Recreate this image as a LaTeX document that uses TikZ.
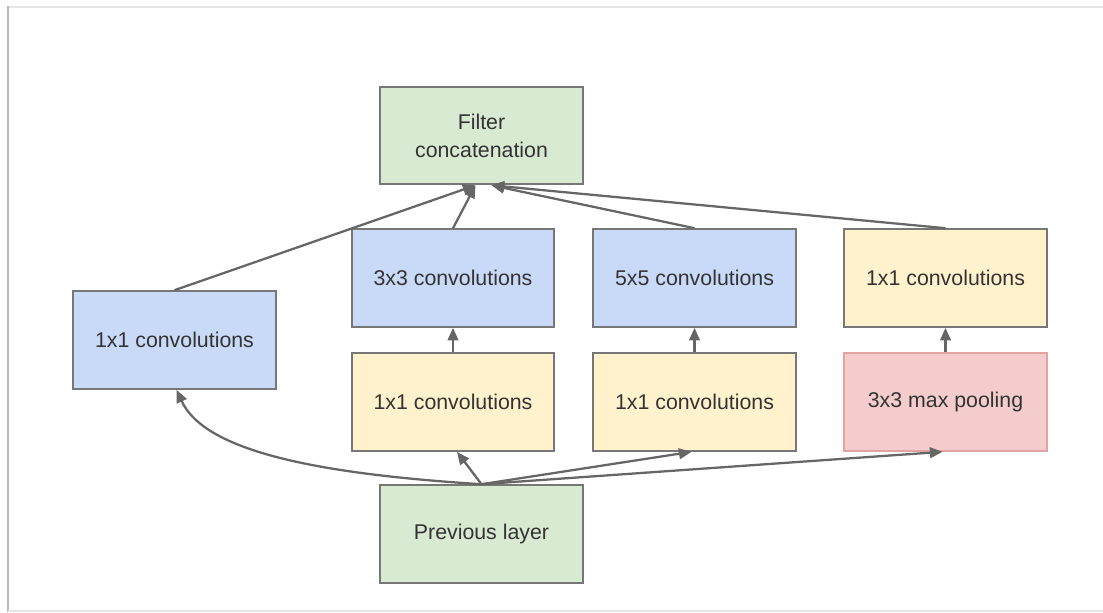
\documentclass[tikz,border=0pt]{standalone}
\usepackage{fontspec}
\setmainfont{Liberation Sans}
\usetikzlibrary{arrows.meta}
\definecolor{gfill}{HTML}{D9EAD3}
\definecolor{bfill}{HTML}{C9DAF8}
\definecolor{yfill}{HTML}{FFF2CC}
\definecolor{rfill}{HTML}{F4CCCC}
\definecolor{rline}{HTML}{E3A3A3}
\definecolor{bline}{HTML}{777777}
\definecolor{aline}{HTML}{666666}
\definecolor{txt}{HTML}{333333}
\tikzset{
  box/.style={draw=bline, line width=1.7pt, rectangle, minimum width=152pt, minimum height=73pt,
    align=center, font=\fontsize{16}{21}\selectfont, text=txt, inner sep=0pt},
  gbox/.style={box, fill=gfill},
  bbox/.style={box, fill=bfill},
  ybox/.style={box, fill=yfill},
  rbox/.style={box, fill=rfill, draw=rline},
  conn/.style={draw=aline, line width=1.7pt, -{Triangle[length=9.5pt,width=8pt]}},
}
\begin{document}
\begin{tikzpicture}[x=0.75pt, y=-0.75pt]
\useasboundingbox (0,0) rectangle (1103,612);
% frame
\draw[draw=black!10, line width=1.5pt] (8,6.5) -- (1103,6.5);
\draw[draw=black!28, line width=1.8pt] (8,6) -- (8,612);
\draw[draw=black!10, line width=1.2pt] (8,611) -- (1103,611);
% nodes
\node[gbox] (concat) at (481.5,135.5) {Filter\\concatenation};
\node[bbox] (c1) at (174.5,340) {1x1 convolutions};
\node[bbox] (c3) at (453,278) {3x3 convolutions};
\node[bbox] (c5) at (694.5,278) {5x5 convolutions};
\node[ybox] (cr) at (945.5,278) {1x1 convolutions};
\node[ybox] (r1) at (453,402) {1x1 convolutions};
\node[ybox] (r2) at (694.5,402) {1x1 convolutions};
\node[rbox] (mp) at (945.5,402) {3x3 max pooling};
\node[gbox] (prev) at (481.5,534) {Previous layer};
% lower connectors
\draw[conn] (prev.north) .. controls (320,474) and (205,452) .. ([xshift=1.5pt]c1.south);
\draw[conn] (prev.north) -- ([xshift=3pt]r1.south);
\draw[conn] (prev.north) -- ([xshift=-2.2pt]r2.south);
\draw[conn] (prev.north) -- ([xshift=-2.2pt]mp.south);
% middle connectors
\draw[conn] (r1.north) -- (c3.south);
\draw[conn] (r2.north) -- (c5.south);
\draw[conn] (mp.north) -- (cr.south);
% upper connectors
\draw[conn] (c1.north) -- ([xshift=-4.5pt]concat.south);
\draw[conn] (c3.north) -- ([xshift=-4.5pt]concat.south);
\draw[conn] (c5.north) -- ([xshift=7.5pt]concat.south);
\draw[conn] (cr.north) -- ([xshift=7.5pt]concat.south);
\end{tikzpicture}
\end{document}
